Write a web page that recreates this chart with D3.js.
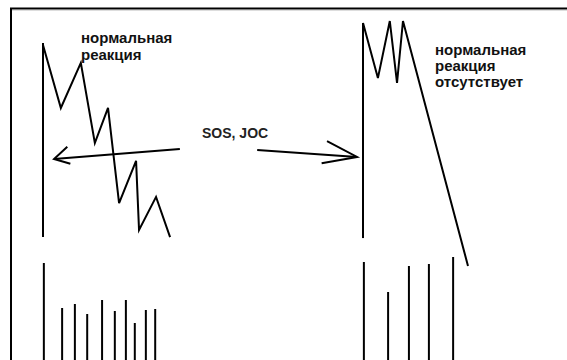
<!DOCTYPE html>
<html><head><meta charset="utf-8">
<script src="https://cdn.jsdelivr.net/npm/d3@7"></script>
<style>
html,body{margin:0;padding:0;background:#fff;overflow:hidden}
svg{display:block}
text{font-family:"Liberation Sans",Arial,sans-serif;font-weight:bold}
</style></head>
<body>
<script>
// ---- data (time units, price units, volume units) ----
const leftPriceT   = [0, 4.2, 8.9, 12.2, 15.3, 17.9, 21.9, 22.6, 26.6, 29.9];
const leftPriceV   = [90.2, 64.5, 82.9, 50.2, 64.5, 25.7, 42.9, 14.7, 28.2, 11.8];
const rightPriceT  = [75.3, 78.8, 81.6, 83.3, 84.7, 100];
const rightPriceV  = [99.2, 76.7, 100, 74.7, 100, 0];
const leftAxis     = {t: 0, from: 11.8, to: 91};
const rightAxis    = {t: 75.3, from: 11.4, to: 99.2};
const leftVolT     = [0.2, 4.5, 7.5, 10.4, 13.9, 16.9, 19.5, 21.6, 24.2, 26.4];
const leftVolV     = [97, 52, 56, 46, 60, 49, 60, 37, 50, 51];
const rightVolT    = [75.5, 81.2, 86.1, 90.8, 96.5];
const rightVolV    = [98, 68, 94, 96, 103];
const arrowsFrom   = [[32.2, 47.8], [50.4, 47.3]];
const arrowsTo     = [[2.6, 43.7], [73.9, 44.5]];
const labelLeft    = ["нормальная", "реакция"];
const labelRight   = ["нормальная", "реакция", "отсутствует"];
const labelMiddle  = "SOS, JOC";

const W = 567, H = 360;
const svg = d3.select("body").append("svg").attr("width", W).attr("height", H);

const x = d3.scaleLinear().domain([0, 100]).range([43, 468]);
const y = d3.scaleLinear().domain([0, 100]).range([266, 21]);
const v = d3.scaleLinear().domain([0, 105]).range([360, 255]);

// frame
svg.append("path").attr("d", `M11,361 L11,8.5 L568,8.5`).attr("fill","none")
  .attr("stroke","#000").attr("stroke-width",2);
svg.append("line").attr("x1",12).attr("x2",567).attr("y1",10.5).attr("y2",10.5)
  .attr("stroke","#ddd").attr("stroke-width",1);

const line = d3.line().x(d => x(d[0])).y(d => y(d[1]));
const stroke = sel => sel.attr("fill","none").attr("stroke","#000").attr("stroke-width",2).attr("stroke-linejoin","miter");

// vertical axes (price bar lines)
[leftAxis, rightAxis].forEach(a => {
  svg.append("line").attr("x1", x(a.t)).attr("x2", x(a.t))
    .attr("y1", y(a.to)).attr("y2", y(a.from)).call(stroke);
});

// price zigzags
svg.append("path").datum(d3.zip(leftPriceT, leftPriceV)).attr("d", line).call(stroke);
svg.append("path").datum(d3.zip(rightPriceT, rightPriceV)).attr("d", line).call(stroke);

// volume bars
const bars = (ts, vs) => svg.append("g").selectAll("line").data(d3.zip(ts, vs)).join("line")
  .attr("x1", d => x(d[0])).attr("x2", d => x(d[0]))
  .attr("y1", d => v(d[1])).attr("y2", v(0)).call(stroke);
bars(leftVolT, leftVolV);
bars(rightVolT, rightVolV);

// arrows
const heads = [[-38, 21, 18, 17], [24, -14, 34, 36]]; // angle offsets (deg) and arm lengths
arrowsFrom.forEach((f, i) => {
  const t = arrowsTo[i];
  const x1 = x(f[0]), y1 = y(f[1]), x2 = x(t[0]), y2 = y(t[1]);
  svg.append("line").attr("x1", x1).attr("y1", y1).attr("x2", x2).attr("y2", y2).call(stroke);
  const back = Math.atan2(y1 - y2, x1 - x2);
  const h = heads[i];
  const a1 = back + h[0] * Math.PI / 180, a2 = back + h[1] * Math.PI / 180;
  svg.append("path").attr("d",
    `M${x2 + h[2]*Math.cos(a1)},${y2 + h[2]*Math.sin(a1)} L${x2},${y2} L${x2 + h[3]*Math.cos(a2)},${y2 + h[3]*Math.sin(a2)}`)
    .call(stroke);
});

// labels
svg.append("text").attr("x", 81).attr("y", 43).attr("font-size", 15).attr("fill","#111")
  .selectAll("tspan").data(labelLeft).join("tspan")
  .attr("x", 81).attr("dy", (d, i) => i ? 17 : 0).text(d => d);
svg.append("text").attr("x", 435).attr("y", 55).attr("font-size", 15).attr("fill","#111")
  .selectAll("tspan").data(labelRight).join("tspan")
  .attr("x", 435).attr("dy", (d, i) => i ? 16 : 0).text(d => d);
svg.append("text").attr("x", 202).attr("y", 138).attr("font-size", 14).attr("fill","#222")
  .text(labelMiddle);
</script>
</body></html>
